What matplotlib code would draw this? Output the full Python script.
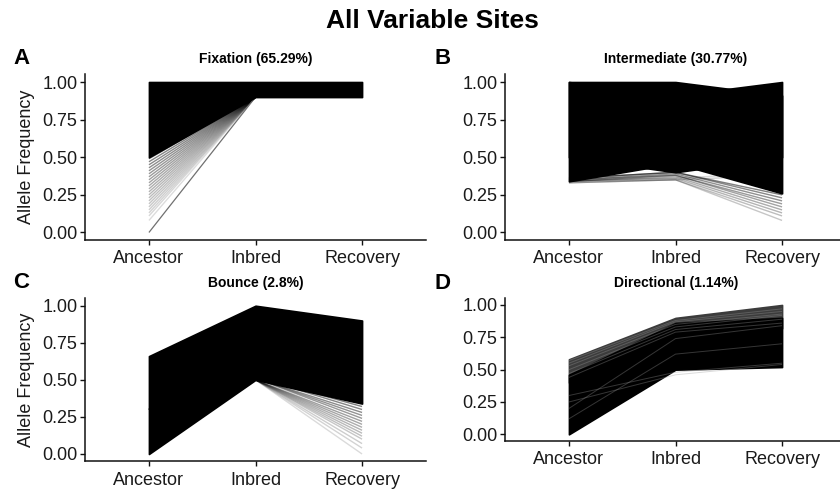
import matplotlib.pyplot as plt
import numpy as np

plt.rcParams['font.family'] = ['Liberation Sans', 'DejaVu Sans']
plt.rcParams['lines.solid_capstyle'] = 'butt'

stages = ['Ancestor', 'Inbred', 'Recovery']
yticks = [0.00, 0.25, 0.50, 0.75, 1.00]

# Dense overplotted trajectories, read as (top, bottom) envelopes per stage
fixation_bands = [([1.00, 1.00, 1.00], [0.50, 0.90, 0.90])]
intermediate_bands = [([1.00, 1.00, 0.91], [0.34, 0.46, 0.26]),
                      ([1.00, 0.91, 1.00], [0.50, 0.40, 0.50])]
bounce_bands = [([0.66, 1.00, 0.90], [0.00, 0.50, 0.34])]
directional_bands = [([0.58, 0.90, 1.00], [0.40, 0.78, 0.82]),
                     ([0.46, 0.86, 0.90], [0.00, 0.50, 0.52])]

# Sparse trajectories that fan out of the dense block
fixation_fringe = [
    [0.49, 0.90, 0.95], [0.47, 0.90, 0.95], [0.45, 0.90, 0.95],
    [0.43, 0.90, 0.95], [0.41, 0.90, 0.95], [0.39, 0.90, 0.95],
    [0.37, 0.90, 0.95], [0.35, 0.90, 0.95], [0.33, 0.90, 0.95],
    [0.31, 0.90, 0.95], [0.29, 0.90, 0.95], [0.27, 0.90, 0.95],
    [0.25, 0.90, 0.95], [0.23, 0.90, 0.95], [0.21, 0.90, 0.95],
    [0.19, 0.90, 0.95], [0.17, 0.90, 0.95], [0.15, 0.90, 0.95],
    [0.13, 0.90, 0.95], [0.11, 0.90, 0.95], [0.08, 0.90, 0.95],
]
fixation_outlier = [0.00, 0.90, 0.95]

intermediate_fringe = [
    [0.36, 0.40, 0.25], [0.36, 0.40, 0.23], [0.35, 0.39, 0.21],
    [0.35, 0.38, 0.19], [0.34, 0.38, 0.17], [0.34, 0.37, 0.15],
    [0.34, 0.36, 0.13], [0.33, 0.35, 0.11], [0.33, 0.35, 0.08],
    [0.34, 0.35, 0.38], [0.35, 0.36, 0.40],
]
bounce_fringe = [
    [0.30, 0.52, 0.32], [0.30, 0.52, 0.30], [0.30, 0.51, 0.28],
    [0.30, 0.51, 0.26], [0.30, 0.51, 0.24], [0.30, 0.50, 0.22],
    [0.30, 0.50, 0.20], [0.30, 0.50, 0.18], [0.30, 0.50, 0.16],
    [0.30, 0.50, 0.14], [0.30, 0.50, 0.12], [0.30, 0.50, 0.10],
    [0.30, 0.50, 0.07], [0.30, 0.50, 0.04], [0.30, 0.50, 0.00],
]
directional_fringe = [
    [0.57, 0.88, 0.97], [0.55, 0.87, 0.95], [0.53, 0.85, 0.93],
    [0.50, 0.83, 0.92], [0.47, 0.81, 0.89], [0.44, 0.79, 0.86],
    [0.20, 0.74, 0.84], [0.12, 0.62, 0.70], [0.30, 0.48, 0.55],
    [0.25, 0.46, 0.54],
]

panels = [
    ('A', 'Fixation (65.29%)', fixation_bands, fixation_fringe, (85, 74.5, 426, 240), True),
    ('B', 'Intermediate (30.77%)', intermediate_bands, intermediate_fringe, (505, 74.5, 846, 240), False),
    ('C', 'Bounce (2.8%)', bounce_bands, bounce_fringe, (85, 298.3, 426, 461.4), True),
    ('D', 'Directional (1.14%)', directional_bands, directional_fringe, (505, 298.5, 846, 440.8), False),
]

W, H = 840, 490
fig = plt.figure(figsize=(W / 100, H / 100), dpi=100)
x = np.arange(1, 4)

for letter, title, bands, fringe, (x0, y0, x1, y1), show_ylab in panels:
    ax = fig.add_axes([x0 / W, 1 - y1 / H, (x1 - x0) / W, (y1 - y0) / H])
    for i, (top, bottom) in enumerate(bands):
        col = '#3c3c3c' if (letter == 'D' and i == 0) else 'black'
        ax.fill_between(x, bottom, top, facecolor=col, edgecolor=col,
                        lw=1.2, zorder=2)
    n = len(fringe)
    for j, traj in enumerate(fringe):
        if letter == 'D':
            # lighter streaks on top of the block
            ax.plot(x, traj, color='#9a9a9a', lw=0.7, alpha=0.35, zorder=3)
        else:
            ax.plot(x, traj, color='black', lw=1.0,
                    alpha=0.5 - 0.38 * j / n, zorder=1)
    if letter == 'A':
        ax.plot(x, fixation_outlier, color='#707070', lw=0.9, zorder=1)

    ax.set_xlim(0.4, 3.6)
    ax.set_ylim(-0.05, 1.05)
    ax.set_xticks(x)
    ax.set_xticklabels(stages)
    ax.set_yticks(yticks)
    ax.set_yticklabels([f'{v:.2f}' for v in yticks])
    for side in ('top', 'right'):
        ax.spines[side].set_visible(False)
    for side in ('left', 'bottom'):
        ax.spines[side].set_linewidth(1.1)
        ax.spines[side].set_color('#111111')
    ax.tick_params(axis='both', length=3.5, width=1.0, color='#111111',
                   labelsize=13, labelcolor='#1a1a1a')
    ax.tick_params(axis='y', pad=2)
    ax.tick_params(axis='x', pad=4)

    fig.text((x0 + x1) / 2 / W if letter in 'AC' else 676 / W,
             1 - (y0 - 15.5) / H, title, ha='center', va='center',
             fontsize=10, fontweight='bold')
    fig.text((13 if letter in 'AC' else 434) / W, 1 - (y0 - 15.5) / H, letter,
             ha='left', va='center', fontsize=16, fontweight='bold')
    if show_ylab:
        fig.text(27 / W, 1 - ((y0 + y1) / 2) / H, 'Allele Frequency',
                 rotation=90, ha='center', va='center', fontsize=13, color='#1a1a1a')

fig.text(432 / W, 1 - 21 / H, 'All Variable Sites', ha='center', va='center',
         fontsize=19, fontweight='bold')

fig.savefig('out.png', dpi=100)
